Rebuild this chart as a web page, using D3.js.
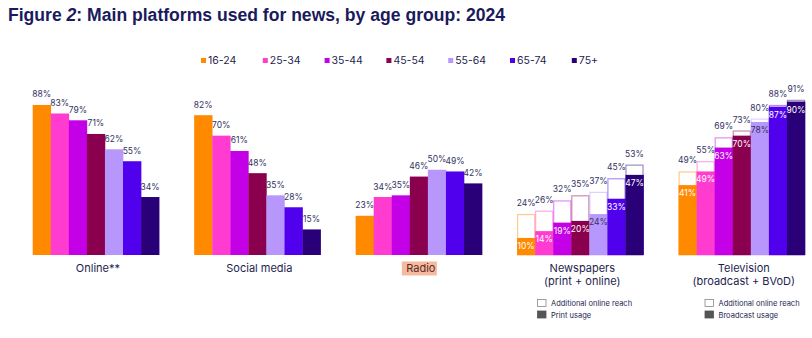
<!DOCTYPE html>
<html>
<head>
<meta charset="utf-8">
<script src="https://cdn.jsdelivr.net/npm/d3@7"></script>
<style>
  body { margin: 0; background: #fff; }
  svg text { font-family: Inter, "Noto Sans", sans-serif; }
</style>
</head>
<body>
<div id="chart"></div>
<script>
// data
const groups = ['Online**', 'Social media', 'Radio', 'Newspapers', 'Television'];
const ages = ['16-24', '25-34', '35-44', '45-54', '55-64', '65-74', '75+'];
const colors = ['#ff8a00', '#ff3ccf', '#c400e6', '#8a004f', '#b897fc', '#5100ee', '#2a0078'];

const online = [88, 83, 79, 71, 62, 55, 34];
const social = [82, 70, 61, 48, 35, 28, 15];
const radio = [23, 34, 35, 46, 50, 49, 42];
const newsPrint = [10, 14, 19, 20, 24, 33, 47];
const newsTotal = [24, 26, 32, 35, 37, 45, 53];
const tvBroadcast = [41, 49, 63, 70, 78, 87, 90];
const tvTotal = [49, 55, 69, 73, 80, 88, 91];

const W = 812, H = 338;
const navy = '#1e1e50';
const labelCol = '#33335f';

const svg = d3.select('#chart').append('svg')
    .attr('width', W)
    .attr('height', H);

// title
const title = svg.append('text')
    .attr('x', 8).attr('y', 21)
    .attr('textLength', 497)
    .attr('lengthAdjust', 'spacingAndGlyphs')
    .style('font-family', '"Liberation Sans", Arial, sans-serif')
    .style('font-weight', 'bold')
    .style('font-size', '18px')
    .attr('fill', '#1a1a5c');
title.append('tspan').text('Figure ');
title.append('tspan').style('font-style', 'italic').text('2');
title.append('tspan').text(': Main platforms used for news, by age group: 2024');

// scales
const x0 = d3.scaleBand()
    .domain(groups)
    .range([32.7, 805])
    .paddingInner(0.217)
    .paddingOuter(0);

const x1 = d3.scaleBand()
    .domain(ages)
    .range([0, x0.bandwidth()]);

const y = d3.scaleLinear()
    .domain([0, 100])
    .range([255, 84.5]);

const color = d3.scaleOrdinal().domain(ages).range(colors);

// legend
const legend = svg.append('g');
ages.forEach((a, i) => {
    const lx = 201 + i * 61.8;
    legend.append('rect')
        .attr('x', lx).attr('y', 58)
        .attr('width', 5).attr('height', 5)
        .attr('fill', color(a));
    legend.append('text')
        .attr('x', lx + 7).attr('y', 63.5)
        .attr('font-size', 10.5)
        .attr('fill', navy)
        .text(a);
});

// simple bar groups
const simple = [
    { g: 'Online**', vals: online },
    { g: 'Social media', vals: social },
    { g: 'Radio', vals: radio }
];

simple.forEach(s => {
    const gEl = svg.append('g').attr('transform', 'translate(' + x0(s.g) + ',0)');
    gEl.selectAll('rect')
        .data(s.vals)
        .enter().append('rect')
        .attr('x', (d, i) => x1(ages[i]))
        .attr('y', d => y(d))
        .attr('width', x1.bandwidth() + 0.3)
        .attr('height', d => y(0) - y(d))
        .attr('fill', (d, i) => color(ages[i]));
    gEl.selectAll('text.val')
        .data(s.vals)
        .enter().append('text')
        .attr('class', 'val')
        .attr('x', (d, i) => x1(ages[i]) + x1.bandwidth() / 2)
        .attr('y', d => y(d) - 7.5)
        .attr('text-anchor', 'middle')
        .attr('font-size', 8.5)
        .attr('fill', labelCol)
        .text(d => d + '%');
});

// stacked (outline + filled) groups
const stacked = [
    { g: 'Newspapers', base: newsPrint, total: newsTotal },
    { g: 'Television', base: tvBroadcast, total: tvTotal }
];

stacked.forEach(s => {
    const gEl = svg.append('g').attr('transform', 'translate(' + x0(s.g) + ',0)');
    gEl.selectAll('rect.outline')
        .data(s.total)
        .enter().append('rect')
        .attr('class', 'outline')
        .attr('x', (d, i) => x1(ages[i]) + 0.5)
        .attr('y', d => y(d) + 0.5)
        .attr('width', x1.bandwidth() - 1)
        .attr('height', d => y(0) - y(d) - 0.5)
        .attr('fill', '#fff')
        .attr('stroke', (d, i) => color(ages[i]))
        .attr('stroke-opacity', 0.45)
        .attr('stroke-width', 1.2);
    gEl.selectAll('rect.base')
        .data(s.base)
        .enter().append('rect')
        .attr('class', 'base')
        .attr('x', (d, i) => x1(ages[i]))
        .attr('y', d => y(d))
        .attr('width', x1.bandwidth() + 0.3)
        .attr('height', d => y(0) - y(d))
        .attr('fill', (d, i) => color(ages[i]));
    gEl.selectAll('text.tot')
        .data(s.total)
        .enter().append('text')
        .attr('class', 'tot')
        .attr('x', (d, i) => x1(ages[i]) + x1.bandwidth() / 2)
        .attr('y', d => y(d) - 8)
        .attr('text-anchor', 'middle')
        .attr('font-size', 8.5)
        .attr('fill', labelCol)
        .text(d => d + '%');
    gEl.selectAll('text.in')
        .data(s.base)
        .enter().append('text')
        .attr('class', 'in')
        .attr('x', (d, i) => x1(ages[i]) + x1.bandwidth() / 2)
        .attr('y', d => y(d) + 11)
        .attr('text-anchor', 'middle')
        .attr('font-size', 8.5)
        .attr('fill', (d, i) => ages[i] === '55-64' ? labelCol : '#fff')
        .text(d => d + '%');
});

// group labels
const groupLabels = {
    'Online**': ['Online**'],
    'Social media': ['Social media'],
    'Radio': ['Radio'],
    'Newspapers': ['Newspapers', '(print + online)'],
    'Television': ['Television', '(broadcast + BVoD)']
};

// highlight behind Radio
svg.append('rect')
    .attr('x', x0('Radio') + x0.bandwidth() / 2 - 17)
    .attr('y', 261.5)
    .attr('width', 35)
    .attr('height', 14)
    .attr('fill', '#f5bb9e');

groups.forEach(g => {
    const t = svg.append('text')
        .attr('x', x0(g) + x0.bandwidth() / 2 + 2)
        .attr('y', 272)
        .attr('text-anchor', 'middle')
        .attr('font-size', 11)
        .attr('fill', g === 'Radio' ? '#5a2a2a' : navy);
    groupLabels[g].forEach((line, i) => {
        t.append('tspan')
            .attr('x', x0(g) + x0.bandwidth() / 2 + 2)
            .attr('dy', i === 0 ? 0 : 12.5)
            .text(line);
    });
});

// bottom legends for the stacked groups
const subLegends = [
    { x: 537, items: ['Additional online reach', 'Print usage'] },
    { x: 704.5, items: ['Additional online reach', 'Broadcast usage'] }
];
subLegends.forEach(l => {
    l.items.forEach((txt, i) => {
        const ly = 299 + i * 11.5;
        svg.append('rect')
            .attr('x', l.x + 0.5).attr('y', ly + 0.5)
            .attr('width', 8.5).attr('height', 7)
            .attr('fill', i === 0 ? '#fff' : '#555')
            .attr('stroke', i === 0 ? '#888' : '#555')
            .attr('stroke-width', 0.8);
        svg.append('text')
            .attr('x', l.x + 14).attr('y', ly + 7)
            .attr('font-size', 7.5)
            .attr('fill', navy)
            .text(txt);
    });
});
</script>
</body>
</html>
